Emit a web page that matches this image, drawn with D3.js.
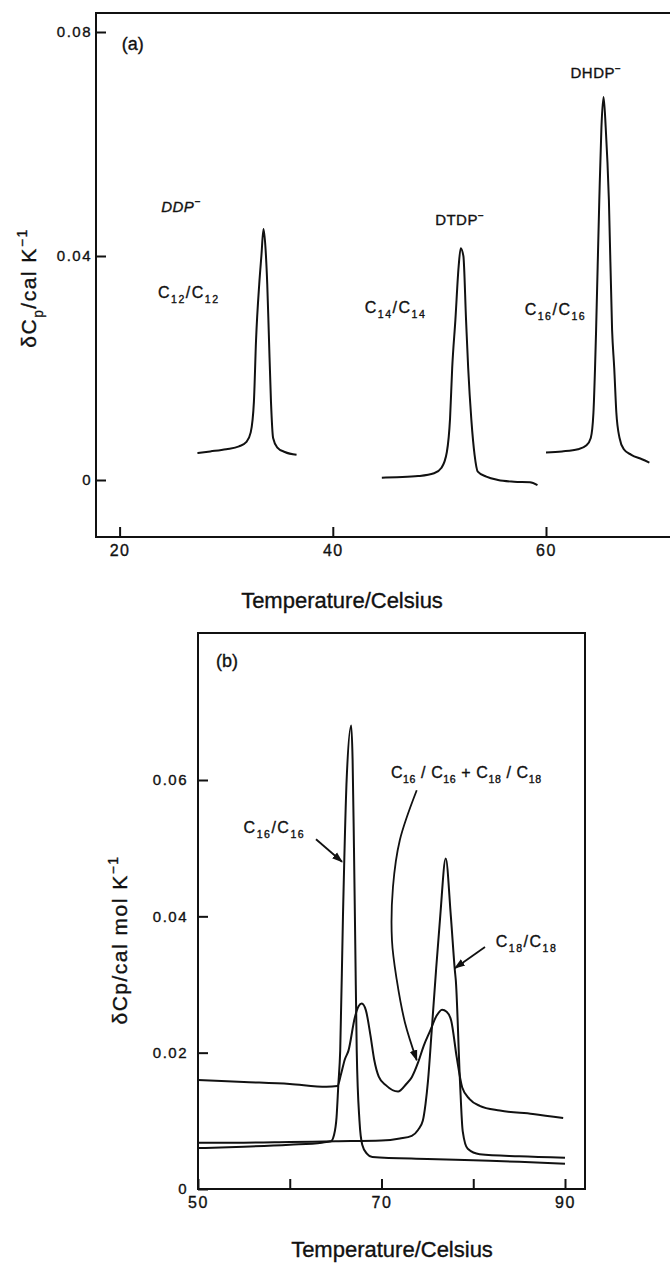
<!DOCTYPE html>
<html>
<head>
<meta charset="utf-8">
<script src="https://cdn.jsdelivr.net/npm/d3@7"></script>
<style>
body { margin: 0; background: #fff; }
svg { display: block; }
text { font-family: "Liberation Sans", Arial, sans-serif; fill: #111; stroke: #111; stroke-width: 0.35px; }
</style>
</head>
<body>
<div class="graph"></div>
<script>
/* Panel (a): temperature (Celsius) and excess heat capacity (cal K^-1) */
const ddp_temp = [27.3, 28.5, 30, 31.2, 31.9, 32.3, 32.6, 32.8, 33.1, 33.3, 33.5, 33.7, 33.85, 34.0, 34.2, 34.4, 34.8, 35.5, 36.6];
const ddp_cp   = [0.0048, 0.0051, 0.0055, 0.0060, 0.0068, 0.0085, 0.014, 0.025, 0.035, 0.040, 0.0448, 0.041, 0.035, 0.026, 0.014, 0.0075, 0.0058, 0.0050, 0.0045];

const dtdp_temp = [44.6, 46, 48, 49.5, 50.2, 50.7, 51.0, 51.2, 51.5, 51.8, 52.0, 52.25, 52.5, 52.7, 53.0, 53.3, 53.6, 54.4, 55.5, 57, 58.5, 59.2];
const dtdp_cp   = [0.0004, 0.0005, 0.0007, 0.0012, 0.0022, 0.005, 0.011, 0.02, 0.0286, 0.038, 0.0414, 0.040, 0.0286, 0.02, 0.0107, 0.0045, 0.0015, 0.0006, 0.0, -0.0003, -0.0004, -0.0009];

const dhdp_temp = [60.0, 61.5, 63, 63.8, 64.2, 64.45, 64.6, 64.7, 65.0, 65.2, 65.4, 65.6, 65.9, 66.2, 66.4, 66.6, 66.9, 67.3, 68, 69, 69.7];
const dhdp_cp   = [0.0049, 0.0051, 0.0055, 0.0062, 0.0075, 0.012, 0.02, 0.0268, 0.05, 0.063, 0.0684, 0.063, 0.05, 0.0268, 0.02, 0.012, 0.0075, 0.0055, 0.0045, 0.0037, 0.0031];

const a_x_ticks = [20, 40, 60];
const a_y_ticks = [0, 0.04, 0.08];

/* Panel (b): mixtures, cal mol^-1 K^-1 */
const c16_temp = [50, 55, 60, 63.5, 64.5, 64.8, 65.1, 65.3, 65.5, 65.8, 66.2, 66.7, 66.85, 67.0, 67.15, 67.3, 67.6, 67.9, 68.4, 69, 75, 80, 85, 90];
const c16_cp   = [0.0060, 0.0062, 0.0065, 0.0068, 0.0070, 0.0078, 0.0105, 0.0154, 0.0203, 0.040, 0.060, 0.068, 0.063, 0.050, 0.035, 0.0203, 0.010, 0.0065, 0.0052, 0.0047, 0.0044, 0.0042, 0.0040, 0.0037];

const c18_temp = [50, 55, 60, 65, 70, 72, 73.3, 74.0, 74.5, 74.8, 75.07, 75.47, 75.94, 76.4, 77.0, 77.56, 78.0, 78.1, 78.55, 78.85, 79.4, 80.7, 85, 90];
const c18_cp   = [0.0068, 0.0068, 0.0069, 0.0070, 0.0071, 0.0074, 0.0078, 0.0087, 0.0100, 0.0125, 0.0159, 0.0232, 0.032, 0.040, 0.0485, 0.040, 0.032, 0.0306, 0.0159, 0.0085, 0.0059, 0.0051, 0.0048, 0.0046];

const mix_temp = [50, 55, 60, 64, 65.2, 65.6, 66.0, 66.4, 67.1, 67.5, 67.85, 68.3, 68.8, 69.2, 69.7, 70.5, 71.8, 72.7, 73.3, 74.0, 74.6, 75.3, 76.0, 76.6, 77.1, 77.6, 78.2, 78.8, 79.6, 80.7, 82.9, 86.5, 89.8];
const mix_cp   = [0.0160, 0.0157, 0.0154, 0.0150, 0.0151, 0.0169, 0.0190, 0.0203, 0.0252, 0.0268, 0.0272, 0.0262, 0.0225, 0.0190, 0.0165, 0.0152, 0.0143, 0.0154, 0.0164, 0.0186, 0.0210, 0.0232, 0.0254, 0.0263, 0.0260, 0.0247, 0.0193, 0.0149, 0.0132, 0.0122, 0.0115, 0.0110, 0.0104];

const b_x_ticks = [50, 60, 70, 80, 90];
const b_x_labels = ["50", "", "70", "", "90"];
const b_y_ticks = [0, 0.02, 0.04, 0.06];

/* annotation arrows, in data units of panel (b) */
const arrow_c16_temp = [62.86, 65.7];
const arrow_c16_cp   = [0.0513, 0.0480];
const arrow_mix_temp = [73.84, 72.0, 71.25, 71.14, 71.66, 72.56, 73.84];
const arrow_mix_cp   = [0.0585, 0.0512, 0.0443, 0.0365, 0.0307, 0.0244, 0.0189];
const arrow_c18_temp = [81.28, 78.0];
const arrow_c18_cp   = [0.0355, 0.0324];

/* Layout */
const width = 670, height = 1263;
const frame_a = { left: 96, top: 13, right: 670, bottom: 537 };
const frame_b = { left: 198, top: 633, right: 585, bottom: 1189 };

const svg = d3.select('.graph').append('svg')
    .attr('width', width)
    .attr('height', height);

const xA = d3.scaleLinear().domain([20, 60]).range([119.6, 546]);
const yA = d3.scaleLinear().domain([0, 0.08]).range([480, 32]);
const xB = d3.scaleLinear().domain([50, 90]).range([198, 565]);
const yB = d3.scaleLinear().domain([0, 0.06]).range([1189, 780]);

const zip = (xs, ys) => xs.map((x, i) => [x, ys[i]]);

// text with sub/superscripts: parts = [[string, 'sub'|'sup'|undefined], ...]
function richText(g, x, y, parts, size, opts) {
    opts = opts || {};
    const t = g.append('text')
        .attr('x', x).attr('y', y)
        .style('font-size', size + 'px')
        .style('letter-spacing', (opts.spacing || 0) + 'px');
    if (opts.italic) t.style('font-style', 'italic');
    if (opts.anchor) t.attr('text-anchor', opts.anchor);
    if (opts.rotate) t.attr('transform', 'rotate(-90,' + x + ',' + y + ')');
    let shift = 0;
    parts.forEach(p => {
        const kind = p[1];
        const target = kind === 'sub' ? 0.32 * size : kind === 'sup' ? -0.42 * size : 0;
        t.append('tspan')
            .attr('dy', target - shift)
            .style('font-size', kind ? (0.66 * size) + 'px' : null)
            .text(p[0]);
        shift = target;
    });
    return t;
}

function drawFrame(f, closed) {
    const p = closed
        ? 'M' + f.left + ',' + f.top + 'H' + f.right + 'V' + f.bottom + 'H' + f.left + 'Z'
        : 'M' + f.right + ',' + f.top + 'H' + f.left + 'V' + f.bottom + 'H' + f.right;
    svg.append('path').attr('d', p)
        .attr('fill', 'none').attr('stroke', '#111').attr('stroke-width', 2);
}

function styleAxis(g, size) {
    g.select('.domain').remove();
    g.selectAll('line').attr('stroke', '#111').attr('stroke-width', 2);
    g.selectAll('text')
        .style('font-family', '"Liberation Sans", Arial, sans-serif')
        .style('font-size', size + 'px')
        .style('letter-spacing', '1.5px')
        .attr('fill', '#111');
}

const fmt = d => d === 0 ? '0' : d.toFixed(2);

/* ---------- panel (a) ---------- */
drawFrame(frame_a, false);

svg.append('g')
    .attr('transform', 'translate(' + frame_a.left + ',0)')
    .call(d3.axisLeft(yA).tickValues(a_y_ticks).tickFormat(fmt).tickSize(-10).tickPadding(4))
    .call(g => styleAxis(g, 15));

svg.append('g')
    .attr('transform', 'translate(0,' + frame_a.bottom + ')')
    .call(d3.axisBottom(xA).tickValues(a_x_ticks).tickFormat(d3.format('d')).tickSize(-10).tickPadding(8))
    .call(g => styleAxis(g, 16));

const lineA = d3.line().x(d => xA(d[0])).y(d => yA(d[1])).curve(d3.curveMonotoneX);
[[ddp_temp, ddp_cp], [dtdp_temp, dtdp_cp], [dhdp_temp, dhdp_cp]].forEach(s => {
    svg.append('path')
        .datum(zip(s[0], s[1]))
        .attr('d', lineA)
        .attr('fill', 'none')
        .attr('stroke', '#111')
        .attr('stroke-width', 2)
        .attr('stroke-linejoin', 'round');
});

const ga = svg.append('g');
richText(ga, xA(20.2), yA(0.0768), [['(a)']], 18);
richText(ga, xA(23.9), yA(0.0479), [['DDP'], ['\u2212', 'sup']], 15, { italic: true, spacing: 0.5 });
richText(ga, xA(23.6), yA(0.0325), [['C'], ['12', 'sub'], ['/'], ['C'], ['12', 'sub']], 16, { spacing: 1.5 });
richText(ga, xA(49.6), yA(0.0455), [['DTDP'], ['\u2212', 'sup']], 15, { spacing: 0.5 });
richText(ga, xA(43.0), yA(0.0298), [['C'], ['14', 'sub'], ['/'], ['C'], ['14', 'sub']], 16, { spacing: 1.5 });
richText(ga, xA(62.3), yA(0.0718), [['DHDP'], ['\u2212', 'sup']], 15, { spacing: 0.5 });
richText(ga, xA(58.0), yA(0.0295), [['C'], ['16', 'sub'], ['/'], ['C'], ['16', 'sub']], 16, { spacing: 1.5 });

richText(ga, 36, 288, [['\u03B4C'], ['p', 'sub'], ['/cal K'], ['\u22121', 'sup']], 21, { rotate: true, anchor: 'middle', spacing: 1.5 });
richText(ga, 342, 608, [['Temperature/Celsius']], 22, { anchor: 'middle' });

/* ---------- panel (b) ---------- */
drawFrame(frame_b, true);

svg.append('g')
    .attr('transform', 'translate(' + frame_b.left + ',0)')
    .call(d3.axisLeft(yB).tickValues(b_y_ticks).tickFormat(fmt).tickSize(-10).tickPadding(10))
    .call(g => styleAxis(g, 15));

svg.append('g')
    .attr('transform', 'translate(0,' + frame_b.bottom + ')')
    .call(d3.axisBottom(xB).tickValues(b_x_ticks).tickFormat((d, i) => b_x_labels[i]).tickSize(-10).tickPadding(8))
    .call(g => styleAxis(g, 16));

const lineB = d3.line().x(d => xB(d[0])).y(d => yB(d[1])).curve(d3.curveMonotoneX);
[[c16_temp, c16_cp], [c18_temp, c18_cp], [mix_temp, mix_cp]].forEach(s => {
    svg.append('path')
        .datum(zip(s[0], s[1]))
        .attr('d', lineB)
        .attr('fill', 'none')
        .attr('stroke', '#111')
        .attr('stroke-width', 2)
        .attr('stroke-linejoin', 'round');
});

svg.append('defs').append('marker')
    .attr('id', 'head')
    .attr('viewBox', '0 0 10 10')
    .attr('refX', 9).attr('refY', 5)
    .attr('markerWidth', 11).attr('markerHeight', 11)
    .attr('markerUnits', 'userSpaceOnUse')
    .attr('orient', 'auto')
    .append('path')
    .attr('d', 'M0,1.5L10,5L0,8.5Z')
    .attr('fill', '#111');

const arrowLine = d3.line().x(d => xB(d[0])).y(d => yB(d[1])).curve(d3.curveCatmullRom);
[[arrow_c16_temp, arrow_c16_cp], [arrow_mix_temp, arrow_mix_cp], [arrow_c18_temp, arrow_c18_cp]].forEach(s => {
    svg.append('path')
        .datum(zip(s[0], s[1]))
        .attr('d', arrowLine)
        .attr('fill', 'none')
        .attr('stroke', '#111')
        .attr('stroke-width', 1.8)
        .attr('marker-end', 'url(#head)');
});

const gb = svg.append('g');
richText(gb, xB(51.96), yB(0.0766), [['(b)']], 18);
richText(gb, xB(54.97), yB(0.0522), [['C'], ['16', 'sub'], ['/'], ['C'], ['16', 'sub']], 16, { spacing: 1.5 });
richText(gb, xB(71.03), yB(0.0603), [['C'], ['16', 'sub'], [' / '], ['C'], ['16', 'sub'], ['  +  '], ['C'], ['18', 'sub'], [' / '], ['C'], ['18', 'sub']], 16, { spacing: 0.6 });
richText(gb, xB(82.45), yB(0.0355), [['C'], ['18', 'sub'], ['/'], ['C'], ['18', 'sub']], 16, { spacing: 1.5 });

richText(gb, 127, 940, [['\u03B4Cp/cal mol K'], ['\u22121', 'sup']], 21, { rotate: true, anchor: 'middle', spacing: 1.5 });
richText(gb, 392, 1257, [['Temperature/Celsius']], 22, { anchor: 'middle' });
</script>
</body>
</html>
